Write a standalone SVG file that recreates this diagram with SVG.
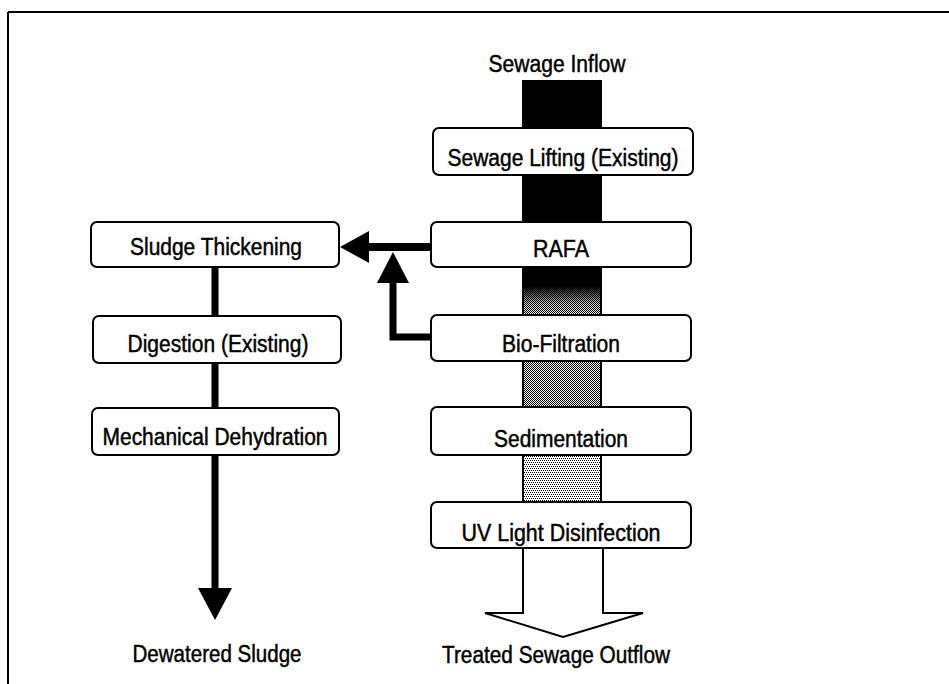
<svg xmlns="http://www.w3.org/2000/svg" width="949" height="684" viewBox="0 0 949 684">
<style>
.box{fill:#fff;stroke:#000;stroke-width:2}
.t{font-family:"Liberation Sans",Arial,sans-serif;font-size:23px;fill:#000;stroke:#000;stroke-width:0.45;text-anchor:middle}
.side{stroke:#000;stroke-width:2}
</style>
<defs>
<pattern id="dark" width="2" height="2" patternUnits="userSpaceOnUse">
<rect width="2" height="2" fill="#fff"/>
<rect x="0" y="0" width="1" height="1" fill="#000"/>
<rect x="1" y="1" width="1" height="1" fill="#000"/>
</pattern>
<pattern id="light" width="4" height="4" patternUnits="userSpaceOnUse">
<rect width="4" height="4" fill="#fff"/>
<rect x="0" y="0" width="1" height="1" fill="#000"/>
<rect x="2" y="0" width="1" height="1" fill="#000"/>
<rect x="1" y="2" width="1" height="1" fill="#000"/>
<rect x="3" y="2" width="1" height="1" fill="#000"/>
</pattern>
<linearGradient id="fade" x1="0" y1="0" x2="0" y2="1">
<stop offset="0" stop-color="#000" stop-opacity="1"/>
<stop offset="0.4" stop-color="#000" stop-opacity="1"/>
<stop offset="0.75" stop-color="#000" stop-opacity="0.2"/>
<stop offset="1" stop-color="#000" stop-opacity="0"/>
</linearGradient>
</defs>
<rect width="949" height="684" fill="#fff"/>
<g id="frame">
<line x1="8" y1="12" x2="949" y2="12" stroke="#000" stroke-width="2"/>
<line x1="8" y1="12" x2="8" y2="684" stroke="#000" stroke-width="2"/>
</g>
<g id="connectors">
<rect x="522" y="80" width="80" height="49" fill="#000"/>
<rect x="522" y="174" width="80" height="49" fill="#000"/>
<rect x="522" y="266" width="80" height="50" fill="url(#dark)"/>
<rect x="522" y="266" width="80" height="50" fill="url(#fade)"/>
<line class="side" x1="523" y1="266" x2="523" y2="316"/>
<line class="side" x1="601" y1="266" x2="601" y2="316"/>
<rect x="522" y="360" width="80" height="48" fill="url(#dark)"/>
<line class="side" x1="523" y1="360" x2="523" y2="408"/>
<line class="side" x1="601" y1="360" x2="601" y2="408"/>
<rect x="522" y="454" width="80" height="49" fill="url(#light)"/>
<line class="side" x1="523" y1="454" x2="523" y2="503"/>
<line class="side" x1="601" y1="454" x2="601" y2="503"/>
<polygon points="523,548 523,613 485,613 563,637 643,613 603,613 603,548" fill="#fff" stroke="#000" stroke-width="2" stroke-linejoin="miter"/>
<line x1="215" y1="267" x2="215" y2="316" stroke="#000" stroke-width="7"/>
<line x1="215" y1="363" x2="215" y2="408" stroke="#000" stroke-width="7"/>
<line x1="215" y1="455" x2="215" y2="590" stroke="#000" stroke-width="7"/>
<polygon points="198,588 232,588 215,620" fill="#000"/>
<line x1="431" y1="247" x2="367" y2="247" stroke="#000" stroke-width="8"/>
<polygon points="340,247 369,231 369,263" fill="#000"/>
<polyline points="431,337 393,337 393,281" fill="none" stroke="#000" stroke-width="7"/>
<polygon points="393,252 377,283 409,283" fill="#000"/>
</g>
<g id="n-inflow"><text class="t" x="557" y="72" textLength="137" lengthAdjust="spacingAndGlyphs">Sewage Inflow</text></g>
<g id="n-lifting"><rect class="box" x="433" y="128" width="260" height="47" rx="6"/><text class="t" x="563" y="166" textLength="231" lengthAdjust="spacingAndGlyphs">Sewage Lifting (Existing)</text></g>
<g id="n-rafa"><rect class="box" x="431" y="222" width="260" height="45" rx="6"/><text class="t" x="561" y="257" textLength="56" lengthAdjust="spacingAndGlyphs">RAFA</text></g>
<g id="n-bio"><rect class="box" x="431" y="315" width="260" height="46" rx="6"/><text class="t" x="561" y="352" textLength="118" lengthAdjust="spacingAndGlyphs">Bio-Filtration</text></g>
<g id="n-sed"><rect class="box" x="431" y="407" width="260" height="48" rx="6"/><text class="t" x="561" y="447" textLength="134" lengthAdjust="spacingAndGlyphs">Sedimentation</text></g>
<g id="n-uv"><rect class="box" x="431" y="502" width="260" height="46" rx="6"/><text class="t" x="561" y="541" textLength="199" lengthAdjust="spacingAndGlyphs">UV Light Disinfection</text></g>
<g id="n-outflow"><text class="t" x="556" y="663" textLength="228" lengthAdjust="spacingAndGlyphs">Treated Sewage Outflow</text></g>
<g id="n-thick"><rect class="box" x="91" y="222" width="248" height="45" rx="6"/><text class="t" x="216" y="255" textLength="172" lengthAdjust="spacingAndGlyphs">Sludge Thickening</text></g>
<g id="n-dig"><rect class="box" x="93" y="316" width="248" height="47" rx="6"/><text class="t" x="218" y="352" textLength="181" lengthAdjust="spacingAndGlyphs">Digestion (Existing)</text></g>
<g id="n-mech"><rect class="box" x="92" y="408" width="247" height="47" rx="6"/><text class="t" x="215" y="445" textLength="225" lengthAdjust="spacingAndGlyphs">Mechanical Dehydration</text></g>
<g id="n-dewatered"><text class="t" x="217" y="662" textLength="169" lengthAdjust="spacingAndGlyphs">Dewatered Sludge</text></g>
</svg>
